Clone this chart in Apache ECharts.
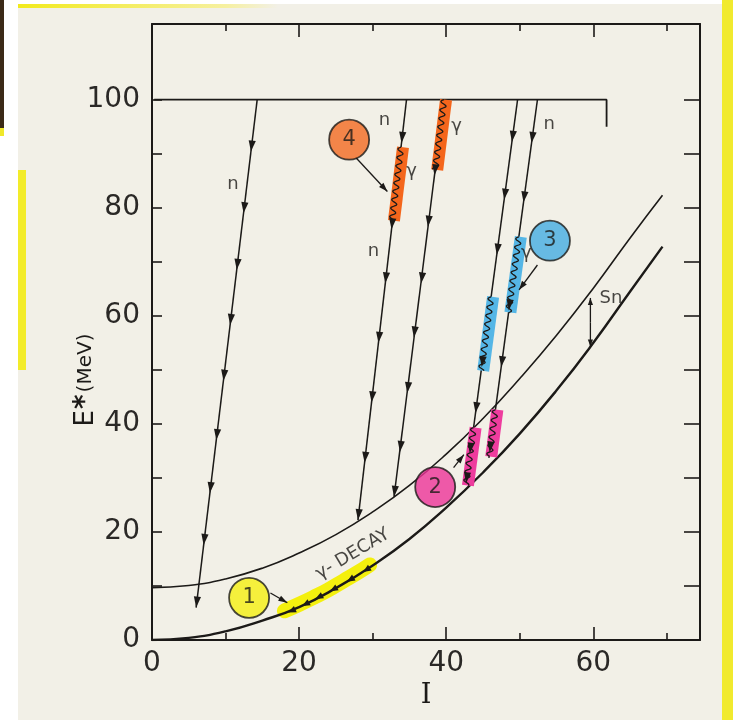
<!DOCTYPE html>
<html><head><meta charset="utf-8">
<script src="https://cdn.jsdelivr.net/npm/echarts@6/dist/echarts.min.js"></script>
<style>
html,body{margin:0;padding:0;background:#fff;}
#wrap{position:relative;width:733px;height:720px;overflow:hidden;background:#fff;}
.bg{position:absolute;}
#c{position:absolute;left:0;top:0;width:733px;height:720px;}
</style>
</head><body>
<div id="wrap">
  <div class="bg" style="left:18px;top:4px;width:704px;height:716px;background:#f2f0e7;"></div>
  <div class="bg" style="left:18px;top:4px;width:260px;height:4px;background:linear-gradient(90deg,#f2ea1c,#f6f0a0 80%,rgba(242,240,231,0));"></div>
  <div class="bg" style="left:18px;top:170px;width:8px;height:200px;background:#f3ec2a;"></div>
  <div class="bg" style="left:722px;top:0px;width:11px;height:720px;background:#f1ea2e;"></div>
  <div class="bg" style="left:0px;top:0px;width:4px;height:128px;background:#3b2a17;"></div>
  <div class="bg" style="left:0px;top:128px;width:4px;height:8px;background:#f0e82a;"></div>
  <div id="c"></div>
</div>
<script>
// ---------- data ----------
const xTickLabels = [0, 20, 40, 60];
const yTickLabels = [0, 20, 40, 60, 80, 100];
const yTickValues = [0, 10, 20, 30, 40, 50, 60, 70, 80, 90, 100];

// yrast line (lower) and yrast + Sn (upper)
const lowerCurve = [[0,0],[5,0.4],[10,1.6],[15,3.6],[20,6.1],[25,9.6],[30,13.8],[35,18.7],[40,24.5],[45,31.0],[50,38.2],[55,46.2],[60,55.0],[65,64.5],[69.4,72.8]];
const upperCurve = [[0,9.7],[5,10.1],[10,11.3],[15,13.3],[20,16.1],[25,19.5],[30,23.7],[35,28.6],[40,34.4],[45,41.0],[50,48.4],[55,56.4],[60,65.1],[65,74.4],[69.4,82.3]];

// entry line at E* = 100 MeV
const topLine = [[0.3,100],[61.8,100],[61.8,95]];

// neutron evaporation lines (start, end)
const lineA = [[14.3,100],[6.0,6.0]];
const lineB = [[34.6,100],[28.0,22.2]];
const lineC = [[39.7,100],[32.9,26.5]];
const lineD = [[49.7,100],[42.7,29.0]];
const lineE = [[52.4,100],[45.8,33.7]];

// arrowheads along those lines
const arrowsA = [[13.45,90.4],[12.45,79.0],[11.52,68.5],[10.62,58.3],[9.71,48.0],[8.74,37.0],[7.87,27.2],[7.02,17.6],[6.0,6.0]];
const arrowsB = [[33.92,92.0],[32.56,76.0],[31.71,66.0],[30.78,55.0],[29.85,44.0],[28.90,32.8],[28.0,22.2]];
const arrowsC = [[38.4,86.0],[37.5,76.5],[36.6,66.0],[35.6,56.0],[34.7,45.7],[33.7,34.8],[32.9,26.5]];
const arrowsD = [[48.93,92.2],[47.88,81.5],[46.87,71.3],[44.82,50.5],[43.98,42.0],[43.2,34.5],[42.7,29.0]];
const arrowsE = [[51.6,92.0],[50.5,81.0],[48.5,61.0],[47.47,50.5],[45.9,34.7]];

// gamma emission segments (start, end) and their highlight colours
const gammaSegments = [
  [[33.85,91.2],[32.62,77.6]],   // orange on B
  [[39.7,100.0],[38.5,87.0]],    // orange on C
  [[46.1,63.5],[44.75,49.8]],    // blue on D
  [[49.87,74.6],[48.45,60.6]],   // blue on E
  [[43.72,39.3],[42.68,28.6]],   // pink on D
  [[46.68,42.6],[45.85,33.9]]    // pink on E
];
const gammaColors = ['#f4661c','#f4661c','#55b6e6','#55b6e6','#ee3c9e','#ee3c9e'];

// gamma cascade along the yrast line (region 1)
const yellowBand = [[18.0,5.4],[20,6.6],[22,7.9],[24,9.3],[26,10.9],[28,12.5],[29.6,13.9]];
const cascadePath = [[29.6,13.4],[28.7,12.6],[26.5,10.8],[24.2,9.0],[22.2,7.6],[20.4,6.3],[18.5,5.1]];

// numbered circles
const circleVals = [[13.2,7.8],[38.5,28.3],[54.1,73.9],[26.8,92.6]];
const circleNames = ['1','2','3','4'];
const circleColors = ['#f5f012','#ec3399','#44ace2','#f26a22'];

// pointers from the circles
const pointers = [
  [[16.1,8.7],[18.4,6.9]],
  [[41.0,31.9],[42.4,34.3]],
  [[52.4,69.4],[49.9,64.8]],
  [[27.7,89.3],[32.0,83.0]]
];
// Sn double arrow
const snArrow = [[59.6,58.8],[59.6,54.3],[59.6,63.3]];

// text annotations
const labelTexts = ['n','n','n','n','γ','γ','γ','Sn'];
const labelPos = [[11.0,84.4],[31.6,96.1],[30.1,71.9],[54.0,95.4],[35.3,86.7],[41.4,95.0],[50.9,71.6],[62.4,63.3]];
const decayText = 'γ- DECAY';
const decayPos = [27.3,15.9];

// ---------- chart ----------
const INK = '#1c1a18';
const FONT = 'DejaVu Sans';
const chart = echarts.init(document.getElementById('c'), null, {renderer:'canvas'});

function headPts(tip, from, len, half){
  const dx = tip[0]-from[0], dy = tip[1]-from[1];
  const d = Math.hypot(dx,dy) || 1;
  const ux = dx/d, uy = dy/d;
  const bx = tip[0]-ux*len, by = tip[1]-uy*len;
  return [[tip[0],tip[1]],[bx-uy*half, by+ux*half],[bx+uy*half, by-ux*half]];
}

function withFrom(arr, from){ return arr.map(p => [p[0],p[1],from[0],from[1]]); }
const lineArrowData = [].concat(
  withFrom(arrowsA, lineA[0]), withFrom(arrowsB, lineB[0]), withFrom(arrowsC, lineC[0]),
  withFrom(arrowsD, lineD[0]), withFrom(arrowsE, lineE[0])
);
const cascadeArrowData = cascadePath.slice(1).map((p,i) => [p[0],p[1],cascadePath[i][0],cascadePath[i][1]]);

function straight(name, pts, width){
  return {type:'line', name, data: pts, symbol:'none', silent:true, z:3,
    lineStyle:{color:INK, width: width||1.5}, animation:false};
}

const axisCommonX = {
  type:'value', min:0, max:74.5, interval:20,
  axisLine:{show:true, onZero:false, lineStyle:{color:INK, width:2}},
  axisTick:{show:true, inside:true, length:13, lineStyle:{color:INK, width:1.6}},
  minorTick:{show:true, splitNumber:2, length:7, lineStyle:{color:INK, width:1.6}},
  splitLine:{show:false}, minorSplitLine:{show:false}
};
const tickLabelStyle = {fontSize:28, color:'#2a2826', fontFamily:FONT};

const option = {
  animation:false,
  backgroundColor:'transparent',
  grid:{left:152, right:33, top:24, bottom:80},
  xAxis:[
    Object.assign({}, axisCommonX, {position:'bottom',
      axisLabel:Object.assign({formatter: v => xTickLabels.includes(v) ? String(v) : '', margin:10}, tickLabelStyle),
      name:'I', nameLocation:'middle', nameGap:38,
      nameTextStyle:{fontFamily:'DejaVu Serif', fontSize:27, color:INK}}),
    Object.assign({}, axisCommonX, {position:'top', axisLabel:{show:false}})
  ],
  yAxis:[
    {type:'value', position:'left', min:0, max:114, interval:10,
      axisLine:{show:true, onZero:false, lineStyle:{color:INK, width:2}},
      axisTick:{show:true, inside:true, length:10, customValues:yTickValues, lineStyle:{color:INK, width:1.6}},
      axisLabel:Object.assign({customValues:yTickLabels, formatter: v => String(v), margin:12}, tickLabelStyle),
      splitLine:{show:false}},
    {type:'value', position:'right', min:0, max:114, interval:10,
      axisLine:{show:true, onZero:false, lineStyle:{color:INK, width:2}},
      axisTick:{show:true, inside:true, length:16, customValues:yTickValues, lineStyle:{color:INK, width:1.6}},
      axisLabel:{show:false}, splitLine:{show:false}}
  ],
  graphic:[{
    type:'text', x:86, y:380, rotation:Math.PI/2, z:10,
    style:{text:'{e|E}{s|*}{m|(MeV)}', align:'center', verticalAlign:'middle', fill:INK,
      rich:{e:{fontSize:26, fontFamily:FONT, fill:INK},
            s:{fontSize:28, fontFamily:FONT, fontWeight:'bold', fill:INK, padding:[0,2,0,1]},
            m:{fontSize:20, fontFamily:FONT, fill:INK}}}
  }],
  series:[
    {type:'line', name:'yellowBand', data: yellowBand, symbol:'none', silent:true, z:1, smooth:true,
      lineStyle:{color:'#f4f00e', width:15, cap:'round', join:'round'}},
    {type:'line', name:'lower', data: lowerCurve, symbol:'none', smooth:true, silent:true, z:3,
      lineStyle:{color:INK, width:2.4}},
    {type:'line', name:'upper', data: upperCurve, symbol:'none', smooth:true, silent:true, z:3,
      lineStyle:{color:INK, width:1.6}},
    straight('top', topLine, 1.8),
    straight('A', lineA), straight('B', lineB), straight('C', lineC), straight('D', lineD), straight('E', lineE),
    { // gamma segments: coloured band + wavy line
      type:'custom', name:'gamma', z:4, silent:true,
      data: gammaSegments.map(s => [s[0][0],s[0][1],s[1][0],s[1][1]]),
      encode:{x:[0,2], y:[1,3]},
      renderItem:(params, api) => {
        const p1 = api.coord([api.value(0), api.value(1)]);
        const p2 = api.coord([api.value(2), api.value(3)]);
        const dx = p2[0]-p1[0], dy = p2[1]-p1[1];
        const L = Math.hypot(dx,dy), ux = dx/L, uy = dy/L, nx = -uy, ny = ux;
        const pts = [];
        for (let t=0; t<=L; t+=0.7){
          const o = 2.8*Math.sin(2*Math.PI*t/8.5);
          pts.push([p1[0]+ux*t+nx*o, p1[1]+uy*t+ny*o]);
        }
        return {type:'group', children:[
          {type:'line', shape:{x1:p1[0]+2,y1:p1[1],x2:p2[0]+2,y2:p2[1]},
            style:{stroke: gammaColors[params.dataIndex], lineWidth:12, lineCap:'butt'}},
          {type:'polyline', shape:{points:pts}, style:{stroke:INK, lineWidth:1.3, fill:null}}
        ]};
      }
    },
    { // arrowheads on neutron lines
      type:'custom', name:'arrows', z:5, silent:true,
      data: lineArrowData, encode:{x:[0,2], y:[1,3]},
      renderItem:(params, api) => {
        const tip = api.coord([api.value(0), api.value(1)]);
        const from = api.coord([api.value(2), api.value(3)]);
        return {type:'polygon', shape:{points: headPts(tip, from, 11, 3.6)}, style:{fill:INK}};
      }
    },
    { // arrowheads of the gamma cascade on the yrast line
      type:'custom', name:'cascade', z:5, silent:true,
      data: cascadeArrowData, encode:{x:[0,2], y:[1,3]},
      renderItem:(params, api) => {
        const tip = api.coord([api.value(0), api.value(1)]);
        const from = api.coord([api.value(2), api.value(3)]);
        return {type:'polygon', shape:{points: headPts(tip, from, 8, 3.4)}, style:{fill:INK}};
      }
    },
    { // pointers from circles and the Sn double arrow
      type:'custom', name:'pointers', z:5, silent:true,
      data: pointers.map(p => [p[0][0],p[0][1],p[1][0],p[1][1],9,3])
        .concat([[snArrow[0][0],snArrow[0][1],snArrow[1][0],snArrow[1][1],7,2.6],
                 [snArrow[0][0],snArrow[0][1],snArrow[2][0],snArrow[2][1],7,2.6]]),
      encode:{x:[0,2], y:[1,3]},
      renderItem:(params, api) => {
        const a = api.coord([api.value(0), api.value(1)]);
        const b = api.coord([api.value(2), api.value(3)]);
        return {type:'group', children:[
          {type:'line', shape:{x1:a[0],y1:a[1],x2:b[0],y2:b[1]}, style:{stroke:INK, lineWidth:1.3}},
          {type:'polygon', shape:{points: headPts(b, a, api.value(4), api.value(5))}, style:{fill:INK}}
        ]};
      }
    },
    { // numbered circles
      type:'scatter', name:'circles', z:6, silent:true, symbol:'circle', symbolSize:40,
      data: circleVals.map((v,i) => ({value:v, name:circleNames[i],
        itemStyle:{color:circleColors[i], borderColor:INK, borderWidth:1.8}})),
      label:{show:true, position:'inside', formatter:p => p.name, fontSize:21, fontFamily:FONT, color:INK}
    },
    { // text annotations
      type:'scatter', name:'texts', z:6, silent:true, symbolSize:1, itemStyle:{color:'rgba(0,0,0,0)'},
      data: labelPos.map((v,i) => ({value:v, name:labelTexts[i]})),
      label:{show:true, position:'inside', formatter:p => p.name, fontSize:18, fontFamily:FONT, color:INK}
    },
    {
      type:'scatter', name:'decay', z:6, silent:true, symbolSize:1, itemStyle:{color:'rgba(0,0,0,0)'},
      data:[{value:decayPos, name:decayText}],
      label:{show:true, position:'inside', rotate:31, formatter:p => p.name, fontSize:18, fontFamily:FONT, color:INK}
    }
  ]
};
chart.setOption(option);
</script>
</body></html>
